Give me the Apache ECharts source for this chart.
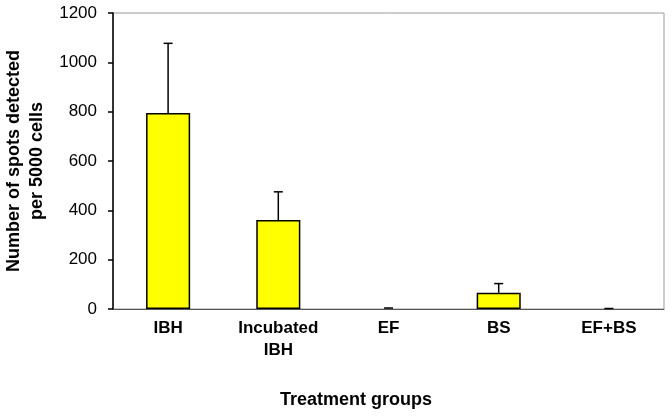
<!DOCTYPE html>
<html>
<head>
<meta charset="utf-8">
<script src="https://cdn.jsdelivr.net/npm/echarts@6/dist/echarts.min.js"></script>
<style>html,body{margin:0;padding:0;background:#fff}#c{width:672px;height:416px}</style>
</head>
<body>
<div id="c"></div>
<script>
var categories = ['IBH', 'Incubated\nIBH', 'EF', 'BS', 'EF+BS'];
var means = [795, 361, 0, 66, 0];
var errors = [282, 114, 4, 37, 2];
var yTicks = [0, 200, 400, 600, 800, 1000, 1200];

var FONT = '"Liberation Sans", Arial, sans-serif';
var chart = echarts.init(document.getElementById('c'), null, {renderer: 'canvas'});
var errData = categories.map(function (c, i) { return [i, means[i], means[i] + errors[i]]; });
var barData = means.map(function (v) {
  return v === 0 ? {value: v, itemStyle: {borderWidth: 0}} : v;
});

chart.setOption({
  animation: false,
  backgroundColor: '#fff',
  grid: {left: 113, right: 8, top: 13, bottom: 107, show: true, borderColor: '#999', borderWidth: 1, containLabel: false, outerBoundsMode: 'none'},
  xAxis: {
    type: 'category',
    data: categories,
    axisLine: {lineStyle: {color: '#555', width: 1}},
    axisTick: {show: false},
    axisLabel: {fontFamily: FONT, fontWeight: 'bold', fontSize: 17, color: '#000', margin: 8, lineHeight: 22, interval: 0}
  },
  yAxis: {
    type: 'value',
    min: yTicks[0], max: yTicks[yTicks.length - 1], interval: 200,
    name: 'Number of spots detected\nper 5000 cells',
    nameLocation: 'middle', nameGap: 62,
    nameTextStyle: {fontFamily: FONT, fontWeight: 'bold', fontSize: 18, color: '#000', lineHeight: 23},
    axisLine: {show: true, lineStyle: {color: '#000', width: 1.5}},
    axisTick: {show: true, length: 5, lineStyle: {color: '#000', width: 1.5}},
    splitLine: {show: false},
    axisLabel: {fontFamily: FONT, fontSize: 17, color: '#000', margin: 16, formatter: function (v) { return String(v); }}
  },
  graphic: [{
    type: 'text', x: 356, y: 400,
    style: {text: 'Treatment groups', font: 'bold 18px ' + FONT, fill: '#000', textAlign: 'center', textVerticalAlign: 'middle'}
  }],
  series: [{
    type: 'bar',
    data: barData,
    barWidth: '40%',
    itemStyle: {color: '#ffff00', borderColor: '#000', borderWidth: 1.5},
    z: 2
  }, {
    type: 'custom',
    data: errData,
    z: 3,
    renderItem: function (params, api) {
      var x = api.value(0);
      var p0 = api.coord([x, api.value(1)]);
      var p1 = api.coord([x, api.value(2)]);
      var hw = 4.5;
      return {
        type: 'group',
        children: [
          {type: 'line', shape: {x1: p0[0], y1: p0[1], x2: p1[0], y2: p1[1]}, style: {stroke: '#000', lineWidth: 1.5}},
          {type: 'line', shape: {x1: p1[0] - hw, y1: p1[1], x2: p1[0] + hw, y2: p1[1]}, style: {stroke: '#000', lineWidth: 1.5}}
        ]
      };
    }
  }]
});
</script>
</body>
</html>
